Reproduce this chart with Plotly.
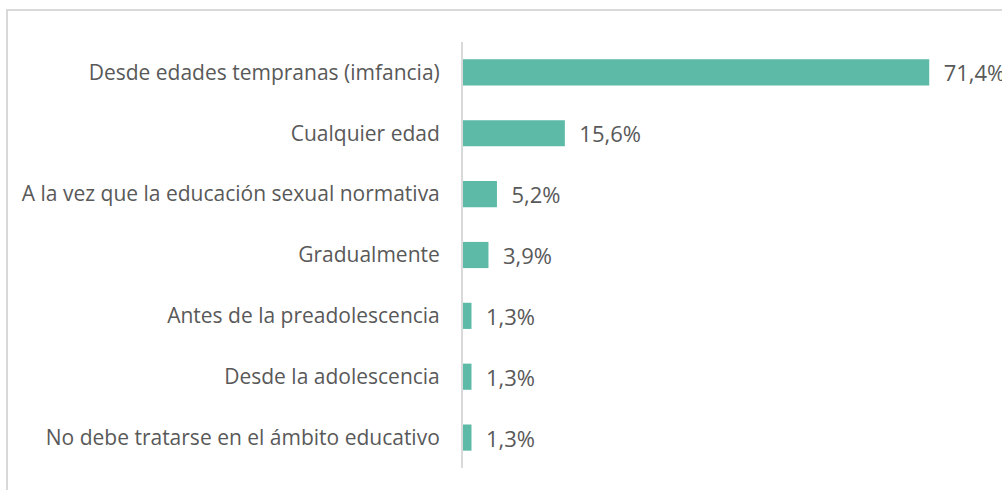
import plotly.graph_objects as go

categorias = [
    "Desde edades tempranas (imfancia)",
    "Cualquier edad",
    "A la vez que la educación sexual normativa",
    "Gradualmente",
    "Antes de la preadolescencia",
    "Desde la adolescencia",
    "No debe tratarse en el ámbito educativo",
]
porcentajes = [71.4, 15.6, 5.2, 3.9, 1.3, 1.3, 1.3]

COR_BARRA = "#5cbaa7"
COR_TEXTO = "#595959"
COR_LINHA = "#d9d9d9"

W, H = 1002, 490
ML, MR, MT, MB = 463, 4, 42, 22
pw, ph = W - ML - MR, H - MT - MB


def px_x(px):
    return (px - ML) / pw


def px_y(py):
    return (H - MB - py) / ph


fig = go.Figure()

fig.add_trace(go.Bar(
    x=porcentajes,
    y=categorias,
    orientation="h",
    marker=dict(color=COR_BARRA, line=dict(width=0)),
    width=0.43,
    text=["\u00a0\u00a0" + f"{v:.1f}".replace(".", ",") + "%" for v in porcentajes],
    textposition="outside",
    constraintext="none",
    textfont=dict(size=22, color=COR_TEXTO),
    cliponaxis=False,
))

# moldura do gráfico (cortada à direita e embaixo)
fig.add_shape(
    type="rect", xref="paper", yref="paper",
    x0=px_x(7), x1=px_x(1020), y0=px_y(510), y1=px_y(10),
    line=dict(color=COR_LINHA, width=2), layer="below",
)

fig.update_layout(
    width=W, height=H,
    margin=dict(l=ML, r=MR, t=MT, b=MB),
    plot_bgcolor="white", paper_bgcolor="white",
    font=dict(family="Open Sans, sans-serif", size=21, color=COR_TEXTO),
    showlegend=False,
    bargap=0.57,
    xaxis=dict(range=[0, (W - MR - ML) / 6.53], visible=False),
    yaxis=dict(
        autorange="reversed",
        showline=True, linecolor=COR_LINHA, linewidth=2,
        showgrid=False, ticks="", ticklabelstandoff=17,
        tickfont=dict(size=21, color=COR_TEXTO),
    ),
)

fig.write_html(
    "out.html",
    config={"displayModeBar": False},
    post_script="document.body.style.margin='0';document.body.style.overflow='hidden';",
)
